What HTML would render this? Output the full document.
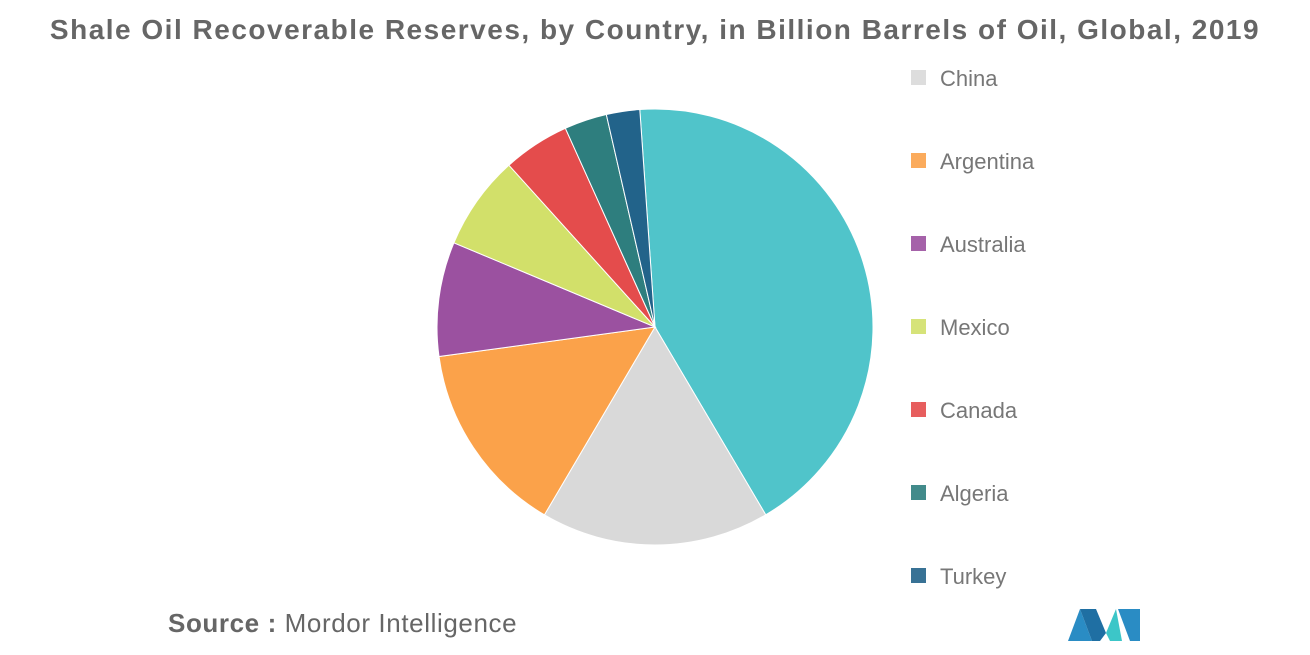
<!DOCTYPE html>
<html><head><meta charset="utf-8"><style>
html,body{margin:0;padding:0;background:#fff;}
body{width:1310px;height:655px;position:relative;overflow:hidden;font-family:"Liberation Sans",sans-serif;}
</style></head><body>
<div style="position:absolute;left:0;width:1310px;top:14px;text-align:center;font-size:28px;font-weight:bold;color:#666;letter-spacing:1.5px">Shale Oil Recoverable Reserves, by Country, in Billion Barrels of Oil, Global, 2019</div>
<svg id="chart" width="1310" height="655" style="position:absolute;left:0;top:0"></svg>
<div style="position:absolute;left:168px;top:608px;font-size:26px;color:#666;letter-spacing:0.6px"><b>Source :</b> Mordor Intelligence</div>
<svg width="80" height="40" style="position:absolute;left:1066px;top:603px">
<polygon points="2,38 14,6 26,38" fill="#2a8cc4"/><polygon points="14,6 30,6 40,30 34,38 26,38" fill="#1f6fa3"/>
<polygon points="40,30 50,6 56,38 44,38" fill="#3cc6c8"/><polygon points="52,6 74,6 74,38 64,38" fill="#2a8cc4"/>
</svg>
<script>
const categories = ["Others","China","Argentina","Australia","Mexico","Canada","Algeria","Turkey"];
const values = [81, 32.2, 27.3, 16.1, 13.3, 9.4, 6, 4.7];
const colors = ["#50c4ca","#d9d9d9","#fba24a","#9b51a0","#d2e06a","#e44c4c","#2e7e7e","#22638a"];
const legendItems = ["China","Argentina","Australia","Mexico","Canada","Algeria","Turkey"];
const svg = document.getElementById('chart');
const NS = "http://www.w3.org/2000/svg";
const cx = 655, cy = 327, r = 218;
const total = values.reduce((a,b)=>a+b,0);
let ang = -4 * Math.PI/180;
function pt(a){return [cx + r*Math.sin(a), cy - r*Math.cos(a)];}
values.forEach((v,i)=>{
  const a2 = ang + v/total*2*Math.PI;
  const [x1,y1]=pt(ang),[x2,y2]=pt(a2);
  const large = (a2-ang)>Math.PI?1:0;
  const p=document.createElementNS(NS,'path');
  p.setAttribute('d',`M${cx},${cy} L${x1},${y1} A${r},${r} 0 ${large} 1 ${x2},${y2} Z`);
  p.setAttribute('fill',colors[i]);
  p.setAttribute('stroke','#fff');p.setAttribute('stroke-width','1');
  
  
  svg.appendChild(p);
  ang=a2;
});
legendItems.forEach((name,i)=>{
  const ci = categories.indexOf(name);
  const y = 78 + i*83;
  const g=document.createElementNS(NS,'g');
  
  
  const rc=document.createElementNS(NS,'rect');
  rc.setAttribute('x',911);rc.setAttribute('y',y-8);rc.setAttribute('width',15);rc.setAttribute('height',15);
  rc.setAttribute('fill',colors[ci]);rc.setAttribute('opacity','0.9');
  const t=document.createElementNS(NS,'text');
  t.setAttribute('x',940);t.setAttribute('y',y+8);t.setAttribute('font-size','22');t.setAttribute('fill','#777');
  t.setAttribute('font-family','Liberation Sans, sans-serif');
  t.textContent=name;
  g.appendChild(rc);g.appendChild(t);svg.appendChild(g);
});
</script>
</body></html>
